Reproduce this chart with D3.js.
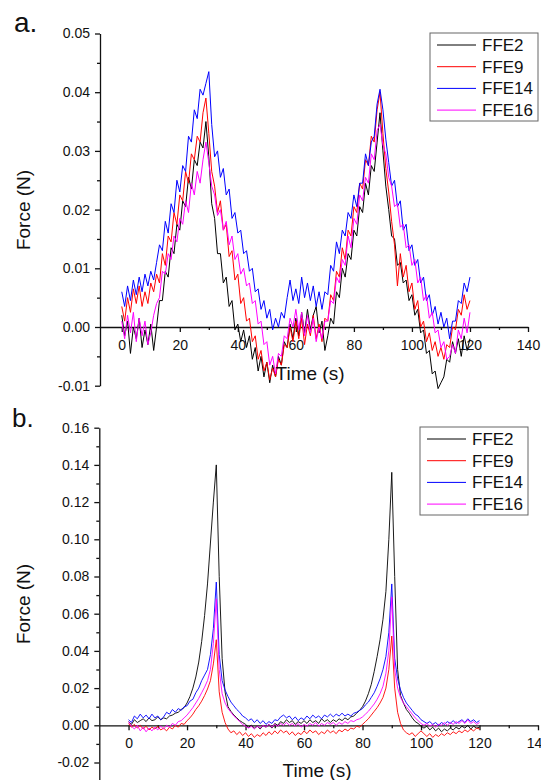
<!DOCTYPE html>
<html lang="en">
<head>
<meta charset="UTF-8">
<title>Force vs time</title>
<script src="https://cdn.jsdelivr.net/npm/d3@7"></script>
<style>
  body { margin: 0; background: #fff; }
  svg { display: block; font-family: "Liberation Sans", Arial, sans-serif; }
  .axis path, .axis line { stroke: #111; stroke-width: 1.3; }
  .axis text { font-size: 14px; fill: #111; }
</style>
</head>
<body>
<svg id="chart" width="541" height="780"></svg>
<script>
// ---- data ----
const seriesNames = ["FFE2", "FFE9", "FFE14", "FFE16"];
const timeSec = d3.range(0, 121); // 0..120 s, 1 s steps

const xTicks = [0, 20, 40, 60, 80, 100, 120, 140];
const xMinor = [10, 30, 50, 70, 90, 110, 130];
const yTicksA = [-0.01, 0, 0.01, 0.02, 0.03, 0.04, 0.05];
const yMinorA = [-0.005, 0.005, 0.015, 0.025, 0.035, 0.045];
const yTicksB = [-0.02, 0, 0.02, 0.04, 0.06, 0.08, 0.10, 0.12, 0.14, 0.16];
const yMinorB = [-0.01, 0.01, 0.03, 0.05, 0.07, 0.09, 0.11, 0.13, 0.15];

// panel a
const ffe2A = [
  0.0020, -0.0015, 0.0010, -0.0045, 0.0000, -0.0020, 0.0015, -0.0035, -0.0005, -0.0030,
  0.0005, -0.0040, 0.0000, 0.0045, 0.0045, 0.0095, 0.0085, 0.0135, 0.0125, 0.0175,
  0.0165, 0.0215, 0.0205, 0.0255, 0.0235, 0.0285, 0.0275, 0.0315, 0.0305, 0.0350,
  0.0290, 0.0210, 0.0185, 0.0125, 0.0125, 0.0075, 0.0085, 0.0035, 0.0045, -0.0005,
  0.0005, -0.0025, -0.0005, -0.0035, -0.0015, -0.0055, -0.0035, -0.0075, -0.0050, -0.0085,
  -0.0060, -0.0095, -0.0065, -0.0085, -0.0050, -0.0065, -0.0025, -0.0035, 0.0005, -0.0020,
  0.0015, -0.0015, 0.0025, -0.0010, 0.0030, -0.0005, 0.0020, 0.0035, -0.0010, 0.0010,
  -0.0040, -0.0015, 0.0015, 0.0005, 0.0060, 0.0050, 0.0100, 0.0085, 0.0125, 0.0115,
  0.0165, 0.0155, 0.0205, 0.0195, 0.0245, 0.0225, 0.0275, 0.0265, 0.0315, 0.0365,
  0.0300, 0.0240, 0.0200, 0.0155, 0.0150, 0.0105, 0.0110, 0.0075, 0.0080, 0.0045,
  0.0055, 0.0020, 0.0030, -0.0010, -0.0005, -0.0045, -0.0040, -0.0080, -0.0075, -0.0105,
  -0.0095, -0.0085, -0.0055, -0.0060, -0.0025, -0.0045, -0.0020, -0.0050, -0.0015, -0.0040,
  -0.0020
];
const ffe9A = [
  0.0035, 0.0010, 0.0050, 0.0025, 0.0065, 0.0040, 0.0070, 0.0035, 0.0060, 0.0040,
  0.0075, 0.0060, 0.0090, 0.0075, 0.0125, 0.0105, 0.0155, 0.0145, 0.0195, 0.0175,
  0.0225, 0.0215, 0.0265, 0.0245, 0.0295, 0.0285, 0.0325, 0.0315, 0.0365, 0.0390,
  0.0330, 0.0265, 0.0240, 0.0195, 0.0215, 0.0165, 0.0175, 0.0120, 0.0130, 0.0080,
  0.0090, 0.0040, 0.0050, 0.0010, 0.0015, -0.0025, -0.0015, -0.0055, -0.0040, -0.0075,
  -0.0060, -0.0090, -0.0070, -0.0085, -0.0055, -0.0065, -0.0030, -0.0035, 0.0000, -0.0025,
  0.0010, -0.0020, 0.0015, -0.0030, 0.0005, -0.0015, 0.0020, -0.0020, 0.0005, -0.0025,
  0.0015, 0.0010, 0.0055, 0.0045, 0.0095, 0.0085, 0.0135, 0.0115, 0.0165, 0.0155,
  0.0205, 0.0195, 0.0245, 0.0235, 0.0285, 0.0275, 0.0325, 0.0315, 0.0370, 0.0400,
  0.0330, 0.0270, 0.0230, 0.0180, 0.0140, 0.0070, 0.0125, 0.0085, 0.0105, 0.0060,
  0.0075, 0.0030, 0.0045, 0.0000, 0.0010, -0.0025, -0.0010, -0.0040, -0.0025, -0.0050,
  -0.0035, -0.0055, -0.0030, -0.0035, 0.0000, -0.0005, 0.0030, 0.0020, 0.0055, 0.0030,
  0.0045
];
const ffe14A = [
  0.0060, 0.0035, 0.0070, 0.0045, 0.0080, 0.0055, 0.0085, 0.0060, 0.0090, 0.0070,
  0.0095, 0.0080, 0.0110, 0.0140, 0.0130, 0.0180, 0.0160, 0.0210, 0.0195, 0.0250,
  0.0230, 0.0275, 0.0265, 0.0325, 0.0315, 0.0370, 0.0355, 0.0405, 0.0395, 0.0415,
  0.0435, 0.0345, 0.0290, 0.0300, 0.0255, 0.0270, 0.0225, 0.0235, 0.0185, 0.0195,
  0.0160, 0.0165, 0.0125, 0.0130, 0.0095, 0.0100, 0.0060, 0.0065, 0.0030, 0.0045,
  0.0015, 0.0030, -0.0005, 0.0015, 0.0000, 0.0025, 0.0015, 0.0050, 0.0080, 0.0045,
  0.0065, 0.0040, 0.0085, 0.0050, 0.0075, 0.0045, 0.0070, 0.0035, 0.0060, 0.0030,
  0.0060, 0.0055, 0.0105, 0.0095, 0.0145, 0.0125, 0.0165, 0.0155, 0.0195, 0.0185,
  0.0225, 0.0205, 0.0245, 0.0245, 0.0295, 0.0275, 0.0315, 0.0325, 0.0380, 0.0405,
  0.0370, 0.0320, 0.0280, 0.0240, 0.0250, 0.0205, 0.0215, 0.0165, 0.0175, 0.0130,
  0.0140, 0.0105, 0.0115, 0.0075, 0.0085, 0.0045, 0.0055, 0.0020, 0.0035, 0.0005,
  0.0025, 0.0000, 0.0015, -0.0020, 0.0010, 0.0010, 0.0045, 0.0040, 0.0075, 0.0060,
  0.0085
];
const ffe16A = [
  0.0010, -0.0020, 0.0020, -0.0010, 0.0025, -0.0025, 0.0015, -0.0015, 0.0010, -0.0030,
  -0.0010, 0.0020, 0.0040, 0.0050, 0.0095, 0.0090, 0.0125, 0.0115, 0.0155, 0.0145,
  0.0185, 0.0175, 0.0215, 0.0195, 0.0245, 0.0225, 0.0265, 0.0245, 0.0285, 0.0315,
  0.0280, 0.0240, 0.0225, 0.0190, 0.0200, 0.0165, 0.0180, 0.0140, 0.0155, 0.0115,
  0.0125, 0.0090, 0.0100, 0.0070, 0.0075, 0.0040, 0.0045, 0.0005, 0.0010, -0.0030,
  -0.0025, -0.0065, -0.0050, -0.0080, -0.0045, -0.0050, -0.0015, -0.0020, 0.0015, 0.0000,
  0.0030, -0.0005, 0.0025, -0.0015, 0.0020, -0.0010, 0.0015, -0.0025, 0.0000, -0.0020,
  0.0010, 0.0010, 0.0045, 0.0040, 0.0085, 0.0075, 0.0115, 0.0105, 0.0155, 0.0135,
  0.0185, 0.0175, 0.0225, 0.0215, 0.0255, 0.0245, 0.0295, 0.0285, 0.0335, 0.0345,
  0.0310, 0.0295, 0.0255, 0.0240, 0.0205, 0.0210, 0.0170, 0.0175, 0.0135, 0.0140,
  0.0105, 0.0115, 0.0075, 0.0085, 0.0045, 0.0055, 0.0015, 0.0025, -0.0010, -0.0005,
  -0.0035, -0.0025, -0.0055, -0.0050, -0.0030, -0.0045, -0.0005, -0.0020, 0.0015, -0.0010,
  0.0025
];

// panel b
const ffe2B = [
  0.0020, 0.0005, 0.0030, 0.0015, 0.0025, 0.0035, 0.0020, 0.0040, 0.0025, 0.0030,
  0.0045, 0.0030, 0.0040, 0.0035, 0.0050, 0.0055, 0.0065, 0.0070, 0.0085, 0.0095,
  0.0120, 0.0155, 0.0200, 0.0260, 0.0340, 0.0450, 0.0590, 0.0760, 0.0980, 0.1200,
  0.1400, 0.0800, 0.0360, 0.0180, 0.0100, 0.0075, 0.0055, 0.0040, 0.0025, 0.0015,
  0.0005, -0.0010, 0.0000, -0.0015, -0.0005, -0.0020, 0.0000, -0.0010, 0.0005, -0.0015,
  0.0010, 0.0000, 0.0020, 0.0010, 0.0030, 0.0015, 0.0025, 0.0005, 0.0020, 0.0010,
  0.0025, 0.0010, 0.0030, 0.0015, 0.0025, 0.0010, 0.0035, 0.0020, 0.0030, 0.0015,
  0.0030, 0.0020, 0.0035, 0.0025, 0.0040, 0.0030, 0.0045, 0.0050, 0.0065, 0.0080,
  0.0100, 0.0130, 0.0170, 0.0220, 0.0290, 0.0370, 0.0460, 0.0570, 0.0720, 0.1000,
  0.1360, 0.0800, 0.0300, 0.0160, 0.0120, 0.0085, 0.0065, 0.0040, 0.0020, 0.0010,
  -0.0005, -0.0015, -0.0005, -0.0025, -0.0010, -0.0030, -0.0015, -0.0035, -0.0020, -0.0030,
  -0.0015, -0.0025, -0.0010, -0.0020, -0.0005, -0.0015, 0.0000, -0.0020, -0.0005, -0.0015,
  -0.0010
];
const ffe9B = [
  0.0010, -0.0010, 0.0005, -0.0015, 0.0000, -0.0020, -0.0005, -0.0025, -0.0010, -0.0020,
  -0.0005, -0.0025, -0.0015, -0.0030, -0.0010, -0.0020, 0.0000, -0.0010, 0.0010, 0.0005,
  0.0025, 0.0040, 0.0060, 0.0085, 0.0105, 0.0130, 0.0160, 0.0195, 0.0240, 0.0330,
  0.0460, 0.0180, 0.0070, 0.0015, -0.0020, -0.0040, -0.0030, -0.0050, -0.0035, -0.0055,
  -0.0040, -0.0060, -0.0045, -0.0065, -0.0050, -0.0060, -0.0040, -0.0055, -0.0035, -0.0050,
  -0.0030, -0.0045, -0.0025, -0.0040, -0.0030, -0.0050, -0.0035, -0.0055, -0.0040, -0.0050,
  -0.0030, -0.0045, -0.0025, -0.0040, -0.0030, -0.0050, -0.0035, -0.0045, -0.0025, -0.0040,
  -0.0030, -0.0045, -0.0025, -0.0035, -0.0020, -0.0030, -0.0015, -0.0020, -0.0005, -0.0010,
  0.0005, 0.0020, 0.0035, 0.0055, 0.0075, 0.0095, 0.0120, 0.0150, 0.0200, 0.0300,
  0.0480, 0.0200, 0.0070, 0.0010, -0.0025, -0.0040, -0.0050, -0.0040, -0.0060, -0.0045,
  -0.0030, -0.0045, -0.0060, -0.0045, -0.0065, -0.0050, -0.0060, -0.0045, -0.0055, -0.0040,
  -0.0050, -0.0035, -0.0045, -0.0030, -0.0040, -0.0025, -0.0035, -0.0020, -0.0030, -0.0015,
  -0.0020
];
const ffe14B = [
  0.0030, 0.0015, 0.0050, 0.0035, 0.0060, 0.0040, 0.0055, 0.0035, 0.0060, 0.0040,
  0.0050, 0.0030, 0.0045, 0.0070, 0.0060, 0.0085, 0.0070, 0.0090, 0.0080, 0.0100,
  0.0105, 0.0130, 0.0140, 0.0175, 0.0200, 0.0240, 0.0270, 0.0300, 0.0380, 0.0520,
  0.0770, 0.0380, 0.0240, 0.0190, 0.0155, 0.0125, 0.0105, 0.0085, 0.0070, 0.0050,
  0.0040, 0.0025, 0.0035, 0.0015, 0.0030, 0.0010, 0.0025, 0.0005, 0.0020, 0.0010,
  0.0030, 0.0025, 0.0045, 0.0055, 0.0040, 0.0050, 0.0030, 0.0045, 0.0025, 0.0040,
  0.0030, 0.0050, 0.0035, 0.0055, 0.0040, 0.0050, 0.0035, 0.0055, 0.0045, 0.0060,
  0.0045, 0.0060, 0.0050, 0.0065, 0.0050, 0.0060, 0.0050, 0.0065, 0.0070, 0.0080,
  0.0090, 0.0110, 0.0125, 0.0150, 0.0175, 0.0210, 0.0250, 0.0300, 0.0370, 0.0500,
  0.0760, 0.0360, 0.0250, 0.0190, 0.0150, 0.0120, 0.0100, 0.0080, 0.0060, 0.0050,
  0.0030, 0.0020, 0.0010, 0.0020, 0.0005, 0.0015, 0.0000, 0.0015, 0.0005, 0.0020,
  0.0010, 0.0025, 0.0010, 0.0020, 0.0030, 0.0015, 0.0035, 0.0020, 0.0030, 0.0015,
  0.0025
];
const ffe16B = [
  0.0020, -0.0005, -0.0020, 0.0000, -0.0030, -0.0010, -0.0035, -0.0015, -0.0030, -0.0010,
  -0.0025, -0.0005, -0.0020, 0.0000, -0.0010, 0.0010, 0.0000, 0.0020, 0.0025, 0.0040,
  0.0055, 0.0075, 0.0095, 0.0120, 0.0145, 0.0175, 0.0205, 0.0240, 0.0300, 0.0440,
  0.0680, 0.0300, 0.0170, 0.0120, 0.0090, 0.0070, 0.0050, 0.0035, 0.0020, 0.0005,
  -0.0005, -0.0015, -0.0005, -0.0020, -0.0005, -0.0015, 0.0000, -0.0010, 0.0005, -0.0010,
  0.0005, -0.0005, 0.0010, 0.0000, 0.0015, 0.0000, 0.0010, -0.0005, 0.0010, -0.0010,
  0.0005, -0.0005, 0.0010, 0.0000, 0.0015, -0.0005, 0.0010, 0.0000, 0.0015, 0.0005,
  0.0015, 0.0000, 0.0015, 0.0005, 0.0020, 0.0010, 0.0025, 0.0020, 0.0030, 0.0035,
  0.0045, 0.0060, 0.0075, 0.0095, 0.0115, 0.0140, 0.0170, 0.0210, 0.0280, 0.0400,
  0.0690, 0.0300, 0.0200, 0.0150, 0.0120, 0.0100, 0.0080, 0.0060, 0.0040, 0.0025,
  0.0010, 0.0000, 0.0010, -0.0005, 0.0005, -0.0010, 0.0005, 0.0000, 0.0015, 0.0000,
  0.0015, 0.0005, 0.0020, 0.0010, 0.0025, 0.0010, 0.0030, 0.0010, 0.0020, 0.0005,
  0.0015
];

// ---- drawing ----
const colors = ["#000000", "#ff0000", "#0000ff", "#ff00ff"];
const svg = d3.select("#chart");
svg.append("rect").attr("width", 541).attr("height", 780).attr("fill", "#fff");

function drawPanel(p) {
  const x = d3.scaleLinear().domain(p.xDomain).range(p.xRange);
  const y = d3.scaleLinear().domain(p.yDomain).range(p.yRange);
  const g = svg.append("g");

  // y axis: minor then major
  const yMin = g.append("g").attr("class", "axis")
    .attr("transform", `translate(${p.xRange[0]},0)`)
    .call(d3.axisLeft(y).tickValues(p.yMinor).tickSize(3).tickFormat(""));
  yMin.select(".domain").remove();
  g.append("g").attr("class", "axis")
    .attr("transform", `translate(${p.xRange[0]},0)`)
    .call(d3.axisLeft(y).tickValues(p.yTicks).tickSize(5).tickSizeOuter(0)
      .tickPadding(5).tickFormat(d => d.toFixed(2)));

  // x axis at y = 0
  const xMin = g.append("g").attr("class", "axis")
    .attr("transform", `translate(0,${y(0)})`)
    .call(d3.axisBottom(x).tickValues(xMinor).tickSize(3).tickFormat(""));
  xMin.select(".domain").remove();
  g.append("g").attr("class", "axis")
    .attr("transform", `translate(0,${y(0)})`)
    .call(d3.axisBottom(x).tickValues(xTicks).tickSize(5).tickSizeOuter(0).tickPadding(8));

  // series
  const line = d3.line().x((d, i) => x(timeSec[i])).y(d => y(d));
  p.series.forEach((s, k) => {
    g.append("path").datum(s)
      .attr("fill", "none")
      .attr("stroke", colors[k])
      .attr("stroke-width", p.lineWidth)
      .attr("stroke-linejoin", "round")
      .attr("d", line);
  });

  // axis titles + panel letter
  g.append("text").attr("x", p.timeLabel[0]).attr("y", p.timeLabel[1])
    .attr("text-anchor", "middle").attr("font-size", 19).attr("fill", "#111")
    .text("Time (s)");
  g.append("text")
    .attr("transform", `translate(${p.forceLabel[0]},${p.forceLabel[1]}) rotate(-90)`)
    .attr("text-anchor", "middle").attr("font-size", 19).attr("fill", "#111")
    .text("Force (N)");
  g.append("text").attr("x", p.letter[0]).attr("y", p.letter[1])
    .attr("font-size", p.letter[2]).attr("fill", "#111").text(p.letter[3]);

  // legend
  const lg = g.append("g").attr("transform", `translate(${p.legend[0]},${p.legend[1]})`);
  lg.append("rect").attr("width", 108).attr("height", 88)
    .attr("fill", "#fff").attr("stroke", "#666").attr("stroke-width", 1);
  seriesNames.forEach((name, k) => {
    const cy = 12 + k * 21.7;
    lg.append("line").attr("x1", 7).attr("x2", 46).attr("y1", cy).attr("y2", cy)
      .attr("stroke", colors[k]).attr("stroke-width", 1);
    lg.append("text").attr("x", 52).attr("y", cy + 6)
      .attr("font-size", 17).attr("fill", "#111").text(name);
  });
}

drawPanel({
  xDomain: [-7.5, 140], xRange: [100, 528],
  yDomain: [-0.01, 0.05], yRange: [385.7, 33.5],
  yTicks: yTicksA, yMinor: yMinorA,
  series: [ffe2A, ffe9A, ffe14A, ffe16A], lineWidth: 1,
  timeLabel: [310, 380], forceLabel: [30, 210], letter: [14, 32, 28, "a."],
  legend: [430, 33]
});

drawPanel({
  xDomain: [-10, 140], xRange: [99.3, 538],
  yDomain: [-0.03, 0.16], yRange: [781.1, 427.7],
  yTicks: yTicksB, yMinor: yMinorB,
  series: [ffe2B, ffe9B, ffe14B, ffe16B], lineWidth: 0.9,
  timeLabel: [317, 777], forceLabel: [30, 604], letter: [12, 427, 26, "b."],
  legend: [420, 427]
});
</script>
</body>
</html>
